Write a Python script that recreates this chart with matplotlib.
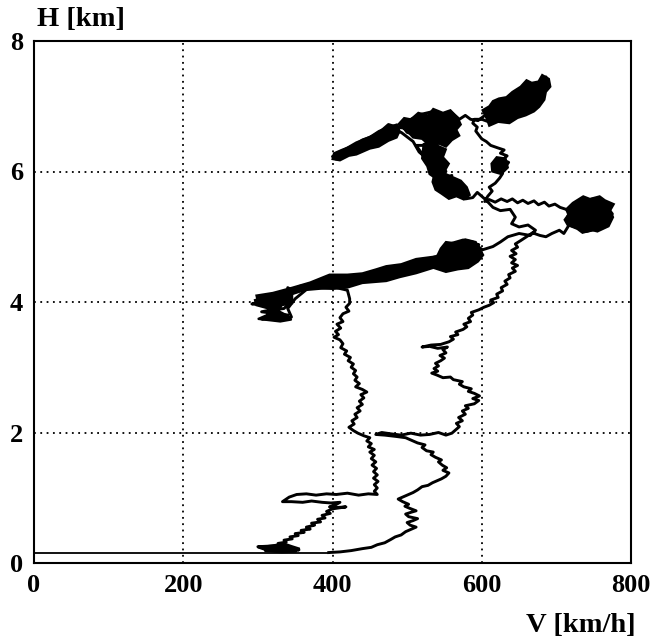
import matplotlib
matplotlib.use("Agg")
import matplotlib.pyplot as plt

# ---- data: flight trajectory (V [km/h], H [km]) ----
runway = [(0, 0.16), (395, 0.16)]

takeoff = [(410, 0.17), (425, 0.19), (440, 0.22), (452, 0.24), (460, 0.28), (470, 0.31),
           (478, 0.36), (484, 0.40), (492, 0.43), (498, 0.48), (506, 0.52), (512, 0.55),
           (504, 0.58), (500, 0.62), (508, 0.65), (514, 0.68), (502, 0.71), (498, 0.75),
           (506, 0.78), (512, 0.80), (503, 0.84), (497, 0.87), (502, 0.90), (494, 0.94),
           (488, 0.98), (494, 1.01), (500, 1.04)]

low_loop = [(508, 1.08), (514, 1.12), (520, 1.17), (528, 1.19), (534, 1.23), (540, 1.26),
            (546, 1.29), (552, 1.33), (556, 1.38), (548, 1.42), (553, 1.46), (547, 1.50),
            (542, 1.55), (546, 1.58), (538, 1.62), (532, 1.66), (535, 1.70), (526, 1.72),
            (520, 1.77), (524, 1.81), (514, 1.84), (506, 1.88), (498, 1.92), (485, 1.94),
            (470, 1.96), (458, 1.97), (466, 2.00), (478, 1.98), (492, 1.96), (505, 1.99),
            (518, 1.96), (530, 1.97), (542, 2.00), (552, 1.96), (560, 1.99)]

right_column = [(565, 2.04), (570, 2.09), (566, 2.14), (574, 2.18), (569, 2.23), (578, 2.28),
                (574, 2.33), (582, 2.37), (578, 2.41), (590, 2.44), (596, 2.49), (588, 2.52),
                (597, 2.56), (590, 2.60), (582, 2.63), (586, 2.67), (576, 2.70), (570, 2.74),
                (574, 2.78), (562, 2.81), (558, 2.85), (548, 2.84), (540, 2.88), (533, 2.91),
                (541, 2.94), (536, 2.98), (542, 3.02), (538, 3.06), (545, 3.10), (550, 3.14),
                (544, 3.18), (552, 3.22), (548, 3.27), (554, 3.31), (541, 3.29), (530, 3.32),
                (520, 3.31), (532, 3.34), (545, 3.35), (556, 3.39), (562, 3.43), (558, 3.47),
                (568, 3.50), (565, 3.54), (575, 3.58), (580, 3.62), (576, 3.66), (585, 3.70),
                (582, 3.75), (588, 3.80), (586, 3.84), (596, 3.88), (603, 3.92), (610, 3.95),
                (616, 3.99), (612, 4.03), (622, 4.07), (620, 4.12), (628, 4.17), (626, 4.22),
                (634, 4.27), (631, 4.32), (638, 4.37), (636, 4.42), (645, 4.47), (641, 4.52),
                (648, 4.56), (640, 4.60), (645, 4.65), (638, 4.70), (646, 4.74), (640, 4.79),
                (648, 4.84), (645, 4.89), (652, 4.94), (660, 5.00), (668, 5.06), (678, 5.02),
                (686, 5.00), (694, 5.05), (704, 5.10), (710, 5.05), (717, 5.18)]

blob_53 = [(725, 5.15), (740, 5.08), (755, 5.12), (768, 5.20), (775, 5.35), (765, 5.50),
           (750, 5.58), (735, 5.55), (720, 5.45), (715, 5.30), (730, 5.25), (748, 5.35),
           (760, 5.28), (770, 5.42), (758, 5.52), (742, 5.45), (728, 5.38), (713, 5.42)]

to_top = [(705, 5.45), (698, 5.50), (690, 5.47), (684, 5.53), (676, 5.49), (670, 5.55),
          (662, 5.51), (655, 5.56), (648, 5.52), (641, 5.58), (634, 5.54), (626, 5.58),
          (618, 5.53), (610, 5.57), (604, 5.54), (608, 5.62), (614, 5.70), (610, 5.76),
          (618, 5.82), (624, 5.90), (628, 5.97), (622, 6.02), (632, 6.08), (636, 6.14),
          (628, 6.18), (634, 6.24), (625, 6.28), (630, 6.33), (622, 6.36), (612, 6.40),
          (606, 6.46), (600, 6.50), (596, 6.56), (592, 6.62), (594, 6.68), (588, 6.74),
          (590, 6.80)]

blob_72 = [(600, 6.80), (612, 6.75), (625, 6.85), (640, 6.95), (655, 7.00), (668, 7.10),
           (680, 7.20), (690, 7.32), (686, 7.45), (675, 7.35), (662, 7.30), (650, 7.18),
           (638, 7.10), (625, 7.02), (612, 6.92), (603, 6.85), (595, 6.78)]

link_top = [(585, 6.80), (578, 6.86), (570, 6.80)]

blob_67 = [(560, 6.90), (548, 6.85), (535, 6.92), (520, 6.88), (505, 6.80), (492, 6.72),
           (500, 6.60), (515, 6.55), (530, 6.62), (545, 6.70), (558, 6.75), (565, 6.60),
           (552, 6.50), (540, 6.42), (528, 6.48), (515, 6.68), (500, 6.66), (486, 6.68),
           (475, 6.72), (465, 6.62), (455, 6.55), (445, 6.50), (432, 6.44), (420, 6.36),
           (410, 6.30), (400, 6.23), (405, 6.19), (418, 6.26), (430, 6.33), (442, 6.39),
           (455, 6.46), (468, 6.55), (480, 6.62), (492, 6.60)]

loop_67 = [(508, 6.46), (516, 6.30), (522, 6.24), (512, 6.40), (530, 6.40), (535, 6.35)]

cluster_6 = [(528, 6.26), (536, 6.20), (545, 6.24), (540, 6.14), (530, 6.10), (538, 6.04),
             (548, 6.08), (552, 6.00), (542, 5.96), (550, 5.90), (560, 5.94), (556, 5.84),
             (548, 5.80), (558, 5.76), (568, 5.80), (572, 5.72), (562, 5.68), (570, 5.62),
             (580, 5.66), (578, 5.58), (588, 5.60)]

down_mid = [(594, 5.68), (600, 5.62), (606, 5.56), (615, 5.45), (625, 5.40), (638, 5.42),
            (645, 5.30), (640, 5.20), (650, 5.15), (662, 5.18), (672, 5.10), (665, 5.02),
            (650, 5.05), (635, 5.00), (625, 4.92), (615, 4.85), (601, 4.80)]

blob_48 = [(595, 4.85), (588, 4.92), (575, 4.95), (560, 4.90), (548, 4.82), (545, 4.70),
           (555, 4.62), (570, 4.58), (585, 4.65), (598, 4.72), (590, 4.80), (565, 4.80),
           (596, 4.88)]

band_4 = [(585, 4.82), (575, 4.90), (562, 4.84), (550, 4.78), (540, 4.70), (528, 4.66),
          (515, 4.60), (502, 4.56), (490, 4.52), (478, 4.50), (465, 4.46), (452, 4.44),
          (440, 4.40), (428, 4.38), (416, 4.35), (404, 4.33), (392, 4.32), (380, 4.30),
          (368, 4.27), (356, 4.24), (346, 4.18), (340, 4.22)]

blob_4 = [(340, 4.10), (320, 4.05), (300, 4.00), (292, 3.97), (310, 3.95), (330, 3.98),
          (345, 4.02), (335, 3.90), (318, 3.88), (305, 3.85), (325, 3.82), (340, 3.80),
          (318, 3.76), (305, 3.74), (330, 3.73), (345, 3.77), (340, 3.90), (350, 4.05)]

link_4 = [(365, 4.19), (385, 4.21), (405, 4.22), (420, 4.18), (423, 4.05), (423, 3.98)]

left_column = [(418, 3.92), (422, 3.86), (414, 3.82), (410, 3.76), (414, 3.70), (406, 3.66),
               (411, 3.60), (404, 3.55), (408, 3.50), (402, 3.46), (410, 3.42), (414, 3.36),
               (411, 3.30), (419, 3.25), (416, 3.20), (424, 3.15), (421, 3.10), (428, 3.05),
               (425, 3.00), (431, 2.95), (428, 2.90), (433, 2.85), (430, 2.80), (436, 2.75),
               (431, 2.70), (440, 2.66), (446, 2.62), (438, 2.58), (442, 2.53), (436, 2.48),
               (440, 2.43), (433, 2.38), (437, 2.33), (430, 2.28), (433, 2.23), (426, 2.18),
               (429, 2.13), (422, 2.08), (428, 2.03), (434, 1.99), (442, 1.95), (450, 1.92),
               (446, 1.87), (452, 1.83), (448, 1.78), (456, 1.74), (450, 1.70), (456, 1.65),
               (452, 1.60), (458, 1.55), (453, 1.50), (459, 1.45), (455, 1.40), (460, 1.35),
               (455, 1.30), (461, 1.25), (456, 1.20), (460, 1.15), (456, 1.10), (460, 1.05)]

descent = [(448, 1.06), (435, 1.04), (420, 1.07), (405, 1.05), (392, 1.06), (378, 1.04),
           (365, 1.06), (352, 1.05), (342, 1.01), (333, 0.94), (345, 0.94), (360, 0.93),
           (372, 0.95), (386, 0.93), (398, 0.92), (410, 0.93), (404, 0.89), (396, 0.86),
           (405, 0.85), (418, 0.86), (400, 0.83), (392, 0.79), (397, 0.76), (386, 0.73),
           (390, 0.69), (380, 0.67), (384, 0.63), (372, 0.61), (376, 0.58), (365, 0.55),
           (370, 0.52), (358, 0.50), (362, 0.47), (350, 0.45), (354, 0.42), (343, 0.40),
           (346, 0.37), (335, 0.35), (338, 0.32), (327, 0.30), (330, 0.27)]

landing = [(318, 0.26), (300, 0.25), (322, 0.23), (345, 0.22), (355, 0.20), (338, 0.19),
           (320, 0.21), (310, 0.19), (332, 0.17), (350, 0.18)]

# dense (filled) areas of the trace, outlines
area_53 = [(715, 5.18), (728, 5.12), (735, 5.06), (748, 5.10), (755, 5.08), (770, 5.16),
           (776, 5.30), (772, 5.40), (777, 5.50), (765, 5.56), (758, 5.62), (745, 5.58),
           (736, 5.62), (722, 5.52), (713, 5.42), (716, 5.34), (711, 5.26)]
area_72 = [(601, 6.94), (607, 6.80), (610, 6.70), (622, 6.76), (637, 6.74), (648, 6.82),
           (659, 6.86), (670, 6.92), (677, 6.99), (684, 7.10), (686, 7.22), (692, 7.30),
           (690, 7.42), (681, 7.48), (676, 7.38), (667, 7.36), (660, 7.40), (652, 7.30),
           (641, 7.22), (633, 7.14), (623, 7.12), (615, 7.08), (610, 7.00)]
area_67 = [(488, 6.72), (496, 6.82), (505, 6.80), (515, 6.90), (528, 6.86), (535, 6.96),
           (548, 6.90), (558, 6.94), (568, 6.82), (572, 6.72), (566, 6.64), (570, 6.55),
           (560, 6.48), (552, 6.38), (540, 6.44), (530, 6.40), (520, 6.50), (508, 6.52),
           (500, 6.62)]
area_64 = [(400, 6.19), (410, 6.17), (422, 6.24), (432, 6.26), (450, 6.35), (462, 6.38),
           (475, 6.47), (486, 6.52), (490, 6.62), (486, 6.72), (474, 6.68), (462, 6.62),
           (450, 6.53), (440, 6.49), (428, 6.40), (412, 6.33), (402, 6.28)]
area_6a = [(522, 6.42), (530, 6.46), (540, 6.40), (552, 6.34), (548, 6.22), (556, 6.12),
           (550, 6.00), (553, 5.92), (540, 5.88), (530, 5.96), (527, 6.08), (520, 6.20)]
area_6b = [(536, 5.94), (548, 5.98), (560, 5.92), (572, 5.86), (580, 5.76), (584, 5.64),
           (576, 5.57), (566, 5.62), (556, 5.58), (546, 5.66), (538, 5.72), (534, 5.84)]
area_6c = [(614, 6.00), (626, 5.96), (635, 6.06), (632, 6.20), (620, 6.22), (613, 6.12)]
area_48 = [(536, 4.52), (552, 4.46), (568, 4.50), (582, 4.52), (595, 4.62), (602, 4.72),
           (597, 4.82), (592, 4.92), (578, 4.96), (565, 4.90), (552, 4.92), (545, 4.82),
           (540, 4.70)]
area_band = [(298, 4.10), (320, 4.14), (346, 4.22), (370, 4.30), (396, 4.42), (420, 4.42),
             (440, 4.44), (458, 4.50), (472, 4.55), (492, 4.58), (512, 4.66), (539, 4.70),
             (540, 4.54), (512, 4.44), (490, 4.38), (472, 4.32), (440, 4.29), (420, 4.22),
             (400, 4.20), (373, 4.22), (346, 4.12), (320, 4.04), (300, 4.00)]
area_4 = [(296, 4.03), (310, 4.08), (330, 4.10), (346, 4.12), (346, 3.98), (332, 3.95),
          (328, 3.86), (340, 3.79), (345, 3.73), (330, 3.70), (315, 3.72), (300, 3.74),
          (312, 3.80), (314, 3.90), (298, 3.95)]
area_land = [(300, 0.24), (320, 0.27), (335, 0.30), (345, 0.26), (356, 0.22), (350, 0.18),
             (330, 0.17), (310, 0.20)]

segments = [takeoff, low_loop, right_column, blob_53, to_top, blob_72, link_top,
            blob_67, loop_67, cluster_6, down_mid, blob_48, band_4, blob_4, link_4,
            left_column, descent, landing]
areas = [area_53, area_72, area_67, area_64, area_6a, area_6b, area_6c, area_48,
         area_band, area_4, area_land]

x_ticks = [0, 200, 400, 600, 800]
y_ticks = [0, 2, 4, 6, 8]

# ---- figure ----
fig = plt.figure(figsize=(6.52, 6.42), dpi=100)
ax = fig.add_axes([34 / 652, 1 - 563 / 642, 597 / 652, 522 / 642])

ax.plot([p[0] for p in runway], [p[1] for p in runway], color="black", lw=1.3)
path_V = [runway[-1][0]] + [p[0] for seg in segments for p in seg]
path_H = [runway[-1][1]] + [p[1] for seg in segments for p in seg]
ax.plot(path_V, path_H, color="black", lw=2.1, solid_joinstyle="round")
for ar in areas:
    ax.fill([p[0] for p in ar], [p[1] for p in ar], color="black", lw=1.5,
            edgecolor="black")

ax.set_xlim(0, 800)
ax.set_ylim(0, 8)
ax.set_xticks(x_ticks)
ax.set_yticks(y_ticks)
ax.set_axisbelow(True)
ax.grid(True, color="black", linestyle=(0, (1, 2.5)), linewidth=1.3)
ax.tick_params(length=0, labelsize=19)
ax.tick_params(axis="x", pad=8)
ax.tick_params(axis="y", pad=8)
for lab in ax.get_xticklabels() + ax.get_yticklabels():
    lab.set_fontfamily("Liberation Serif")
    lab.set_fontweight("bold")
for s in ax.spines.values():
    s.set_linewidth(1.5)

fig.text(37 / 652, 1 - 20 / 642, "H [km]", fontsize=20.5, family="Liberation Serif",
         weight="bold", ha="left", va="center")
fig.text(636 / 652, 1 - 625 / 642, "V [km/h]", fontsize=20.5, family="Liberation Serif",
         weight="bold", ha="right", va="center")

fig.savefig("out.png", dpi=100)
